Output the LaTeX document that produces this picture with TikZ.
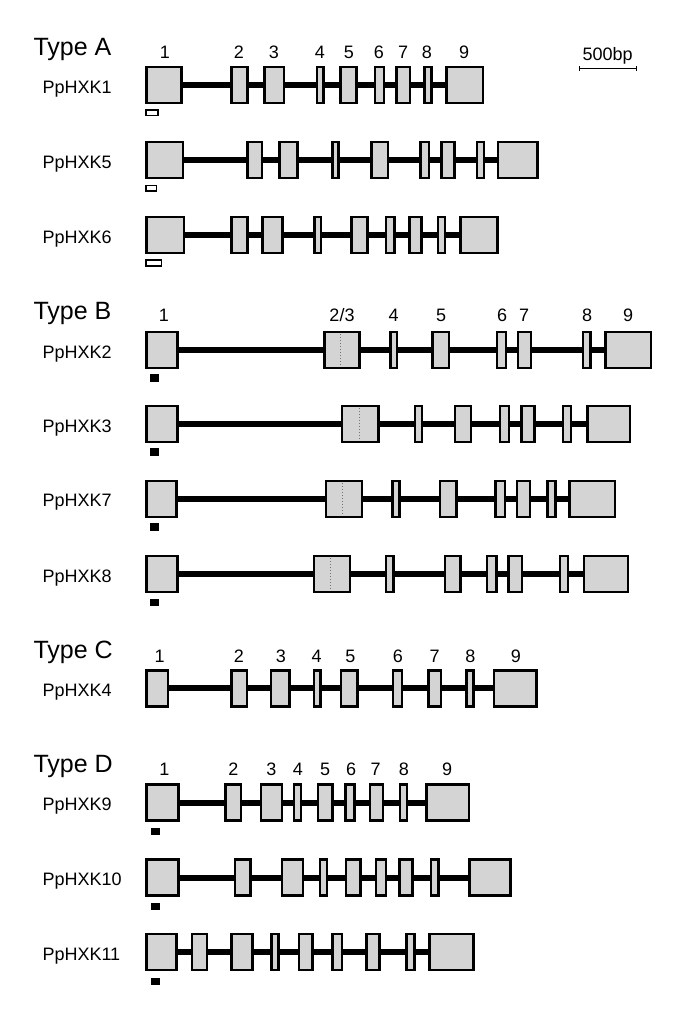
\documentclass[tikz,border=0pt]{standalone}
\usepackage{fontspec}
\setmainfont{Liberation Sans}
\definecolor{exonfill}{RGB}{212,212,212}
\tikzset{
 exon/.style={draw=black, fill=exonfill, line width=2.5pt, rectangle, inner sep=0pt, minimum height=36pt},
 intron/.style={line width=6pt, black},
 num/.style={font=\fontsize{18}{18}\selectfont, anchor=base, inner sep=0pt},
 gname/.style={font=\fontsize{18}{18}\selectfont, anchor=base west, inner sep=0pt},
 tname/.style={font=\fontsize{25}{25}\selectfont, anchor=base west, inner sep=0pt},
 dotl/.style={black!55, line width=0.6pt, dash pattern=on 1.2pt off 1.8pt},
 openmark/.style={draw=black, fill=white, line width=1.8pt},
 fullmark/.style={fill=black},
 barline/.style={line width=1.3pt, black},
}
\newcommand\twothree{2/3}
\newcommand\genestruct[3]{%
 \foreach [count=\i] \a/\b in {#3} {%
   \pgfmathsetmacro\w{\b-\a-2.5}%
   \pgfmathsetmacro\c{(\a+\b)/2}%
   \node[exon, minimum width=\w pt] (#1e\i) at (\c,#2) {};%
   \ifnum\i>1 \pgfmathtruncatemacro\j{\i-1}\draw[intron] (#1e\j.east) -- (#1e\i.west);\fi
 }%
}
\newcommand\numrow[2]{%
 \foreach \x/\t [count=\k] in {#2} {\node[num] (n#1\k) at (\x,#1) {\t};}%
}
\begin{document}
\begin{tikzpicture}[x=1pt,y=-1pt]
\useasboundingbox (0,0) rectangle (685,1017);
% ---------- Type A ----------
\node[tname] (tA) at (33.3,55) {Type A};
\numrow{58.3}{165/1,239/2,274/3,320/4,349/5,379/6,403/7,427/8,464/9}
\node[gname] (l1) at (42.3,93) {PpHXK1};
\genestruct{g1}{85}{145.4/182.9,230.4/248.5,263.3/285.2,315.9/324.7,339.0/357.5,373.5/385.3,395.4/411.0,423.2/432.5,445.1/484.2}
\draw[openmark] (146.3,109.9) rectangle (158.0,115.4);
\node[gname] (l5) at (42.3,168) {PpHXK5};
\genestruct{g5}{160}{145.4/184.1,246.4/263.3,278.0/298.6,331.4/339.9,370.2/389.1,419.0/430.3,440.0/455.6,475.8/485.1,496.9/538.5}
\draw[openmark] (146.3,185.4) rectangle (156.4,190.6);
\node[gname] (l6) at (42.3,243) {PpHXK6};
\genestruct{g6}{235}{145.4/185.0,230.4/248.5,261.2/283.9,313.3/322.2,350.4/368.5,384.9/395.8,408.0/422.8,436.7/446.3,459.0/498.5}
\draw[openmark] (146.3,260.2) rectangle (161.4,265.8);
% scale bar
\coordinate (sbl) at (579.6,68.3);
\coordinate (sbr) at (636.7,68.3);
\draw[barline] (sbl) -- (sbr);
\draw[barline] ([yshift=-2.3pt]sbl) -- ([yshift=2.3pt]sbl);
\draw[barline] ([yshift=-2.3pt]sbr) -- ([yshift=2.3pt]sbr);
\node[num] (sb) at (607.7,60) {500bp};
% ---------- Type B ----------
\node[tname] (tB) at (33.3,319.5) {Type B};
\numrow{321}{164/1,342/\twothree,393.7/4,441/5,502/6,524/7,587/8,628/9}
\node[gname] (l2) at (42.3,358) {PpHXK2};
\genestruct{g2}{350}{145.4/178.7,323.0/360.9,389.1/398.0,431.2/450.1,495.6/507.4,516.6/532.2,581.9/591.6,604.2/652.2}
\draw[dotl] (340.7,334) -- (340.7,366);
\fill[fullmark] (149.6,374) rectangle (158.9,381.7);
\node[gname] (l3) at (42.3,432.2) {PpHXK3};
\genestruct{g3}{424.2}{145.4/178.7,340.7/379.8,413.5/423.2,453.5/472.4,498.5/510.3,520.0/535.6,561.7/572.2,586.1/631.1}
\draw[dotl] (358.8,408.2) -- (358.8,440.2);
\fill[fullmark] (149.6,448.2) rectangle (158.9,455.9);
\node[gname] (l7) at (42.3,506.8) {PpHXK7};
\genestruct{g7}{498.8}{145.4/177.8,324.7/363.0,391.2/400.9,438.8/457.7,494.3/506.1,515.8/531.4,546.1/556.6,568.4/616.4}
\draw[dotl] (342,482.8) -- (342,514.8);
\fill[fullmark] (149.6,523.4) rectangle (158.9,531.1);
\node[gname] (l8) at (42.3,582.2) {PpHXK8};
\genestruct{g8}{574.2}{145.4/178.7,312.5/351.2,384.9/394.6,443.8/461.9,485.9/497.7,507.4/523.0,558.7/569.2,582.7/629.0}
\draw[dotl] (330.2,558.2) -- (330.2,590.2);
\fill[fullmark] (149.6,598.5) rectangle (158.9,606.4);
% ---------- Type C ----------
\node[tname] (tC) at (33.3,658.5) {Type C};
\numrow{662.5}{159.7/1,238.9/2,281/3,316.7/4,350.4/5,398/6,434.6/7,470.3/8,515.8/9}
\node[gname] (l4) at (42.3,696.3) {PpHXK4};
\genestruct{g4}{688.3}{145.4/169.4,230.4/248.1,269.6/290.6,312.5/321.8,339.9/358.8,391.6/403.0,427.0/442.1,465.3/474.5,492.6/537.7}
% ---------- Type D ----------
\node[tname] (tD) at (33.3,772.8) {Type D};
\numrow{775.5}{164.4/1,233.4/2,271.3/3,297.8/4,325.1/5,351.2/6,375.6/7,403.8/8,447.2/9}
\node[gname] (l9) at (42.3,810.5) {PpHXK9};
\genestruct{g9}{802.5}{145.4/179.9,224.1/242.2,259.9/283.0,292.7/302.0,316.7/333.6,344.1/355.9,368.5/384.1,398.8/408.0,425.3/470.3}
\fill[fullmark] (150.5,827.7) rectangle (160.1,835);
\node[gname] (l10) at (42.3,885.8) {PpHXK10};
\genestruct{g10}{877.5}{145.4/179.9,233.8/251.5,280.9/304.1,318.8/328.1,344.9/361.8,374.8/387.4,398.0/413.5,429.5/439.6,468.2/511.6}
\fill[fullmark] (150.5,902.7) rectangle (160.1,910);
\node[gname] (l11) at (42.3,960.2) {PpHXK11};
\genestruct{g11}{952.2}{145.4/177.8,190.5/208.1,230.4/253.6,270.4/279.7,297.8/313.8,331.4/343.2,365.1/380.7,405.1/415.6,428.2/474.5}
\fill[fullmark] (150.5,977.7) rectangle (160.1,985);
\end{tikzpicture}
\end{document}
